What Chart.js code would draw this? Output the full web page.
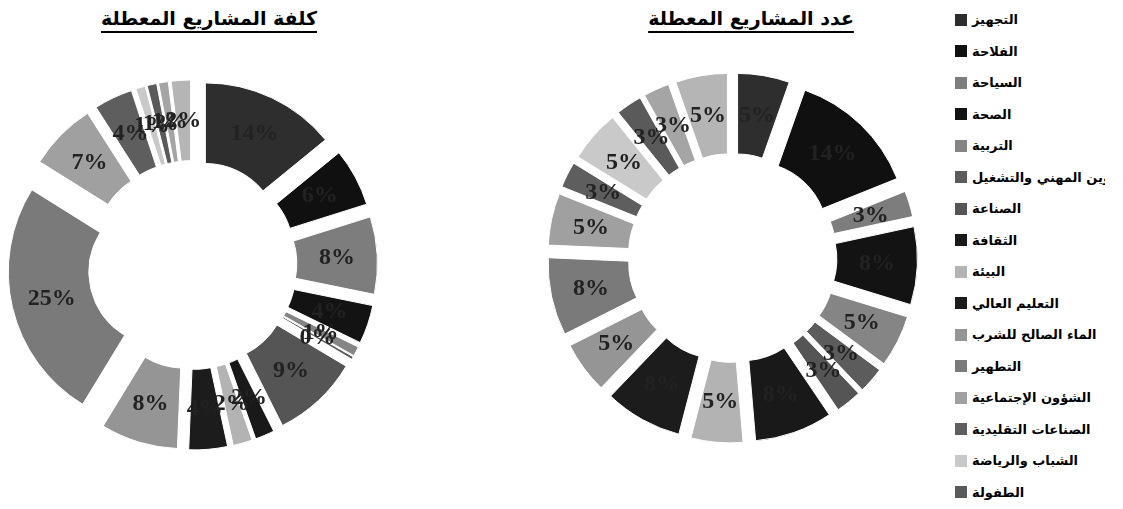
<!DOCTYPE html>
<html lang="ar">
<head>
<meta charset="utf-8">
<script src="https://cdn.jsdelivr.net/npm/chart.js@4.4.1/dist/chart.umd.min.js"></script>
<style>
  html, body { margin: 0; padding: 0; background: #fff; }
  body { position: relative; width: 1123px; height: 509px; overflow: hidden; }
  .titulo {
    position: absolute; top: 7px; transform: translateX(-50%);
    font: bold 19px "DejaVu Sans", sans-serif; color: #000;
    direction: rtl; white-space: nowrap;
    text-decoration: underline; text-underline-offset: 6px; text-decoration-thickness: 2px;
  }
  canvas { position: absolute; }
  #leyenda {
    position: absolute; left: 955px; top: 4px; width: 150px; height: 505px; overflow: hidden;
  }
  #leyenda .fila { display: flex; align-items: center; height: 31.5px; white-space: nowrap; }
  #leyenda .caja { width: 12px; height: 12px; flex: none; }
  #leyenda .txt { margin-left: 5px; font: bold 13px "DejaVu Sans", sans-serif; color: #000; }
</style>
</head>
<body>
<div class="titulo" style="left:209px">كلفة المشاريع المعطلة</div>
<div class="titulo" style="left:751px">عدد المشاريع المعطلة</div>
<canvas id="chartCosto" width="385" height="430" style="left:0;top:50px"></canvas>
<canvas id="chartNumero" width="385" height="430" style="left:540px;top:43px"></canvas>
<div id="leyenda"></div>

<script>
// sectores (orden de la leyenda, en sentido horario desde arriba)
const sectores = [
  "التجهيز", "الفلاحة", "السياحة", "الصحة ", "التربية", "التكوين المهني والتشغيل",
  "الصناعة", "الثقافة", "البيئة", "التعليم العالي", "الماء الصالح للشرب", "التطهير",
  "الشؤون الإجتماعية", "الصناعات التقليدية", "الشباب والرياضة", "الطفولة ",
  "أخرى", "قطاعات أخرى"
];

// كلفة المشاريع المعطلة (% من الكلفة)
const costoPct = [14, 6, 8, 4, 1, 0.3, 9, 2, 2, 4, 8, 25, 7, 4, 1, 1, 1, 2];

// عدد المشاريع المعطلة
const numeroProyectos = [2, 5, 1, 3, 2, 1, 1, 3, 2, 3, 2, 3, 2, 1, 2, 1, 1, 2];

const coloresSector = [
  "#2e2e2e", "#101010", "#7d7d7d", "#131313", "#858585", "#5c5c5c",
  "#555555", "#191919", "#b3b3b3", "#1c1c1c", "#959595", "#7a7a7a",
  "#a0a0a0", "#5e5e5e", "#c9c9c9", "#5a5a5a", "#a5a5a5", "#b5b5b5"
];

const EXPLOSION = 30; // separacion de cada sector (px)

// dibuja cada arco desplazado sobre su bisectriz (donut "explotado")
const explotar = {
  id: "explotar",
  beforeDatasetDraw(chart, args) {
    const ctx = chart.ctx;
    args.meta.data.forEach((arc) => {
      const mid = (arc.startAngle + arc.endAngle) / 2;
      ctx.save();
      ctx.translate(Math.cos(mid) * EXPLOSION, Math.sin(mid) * EXPLOSION);
      arc.draw(ctx);
      ctx.restore();
    });
    return false;
  },
};

// etiquetas de porcentaje en el centro de cada sector
const etiquetas = {
  id: "etiquetas",
  afterDatasetsDraw(chart) {
    const ctx = chart.ctx;
    const valores = chart.data.datasets[0].data;
    const total = valores.reduce((a, b) => a + b, 0);
    ctx.save();
    ctx.font = 'bold 24px "Liberation Serif", serif';
    ctx.textAlign = "center";
    ctx.textBaseline = "middle";
    ctx.fillStyle = "#222";
    chart.getDatasetMeta(0).data.forEach((arc, i) => {
      const p = arc.getProps(["x", "y", "startAngle", "endAngle", "innerRadius", "outerRadius"], true);
      const mid = (p.startAngle + p.endAngle) / 2;
      const r = (p.innerRadius + p.outerRadius) / 2 + EXPLOSION;
      const txt = Math.round((valores[i] / total) * 100) + "%";
      ctx.fillText(txt, p.x + Math.cos(mid) * r, p.y + Math.sin(mid) * r);
    });
    ctx.restore();
  },
};

function crearDonut(id, valores) {
  const ctx = document.getElementById(id).getContext("2d");
  return new Chart(ctx, {
    type: "doughnut",
    data: {
      labels: sectores,
      datasets: [{
        data: valores,
        backgroundColor: coloresSector,
        borderColor: "#ffffff",
        borderWidth: 1,
      }],
    },
    options: {
      responsive: false,
      animation: false,
      radius: 155,
      cutout: "48%",
      plugins: { legend: { display: false }, tooltip: { enabled: false } },
    },
    plugins: [explotar, etiquetas],
  });
}

crearDonut("chartCosto", costoPct);
crearDonut("chartNumero", numeroProyectos);

// leyenda comun (a la derecha)
const leyenda = document.getElementById("leyenda");
sectores.forEach((s, i) => {
  const fila = document.createElement("div");
  fila.className = "fila";
  fila.innerHTML = `<span class="caja" style="background:${coloresSector[i]}"></span><span class="txt" dir="rtl">${s}</span>`;
  leyenda.appendChild(fila);
});
</script>
</body>
</html>
